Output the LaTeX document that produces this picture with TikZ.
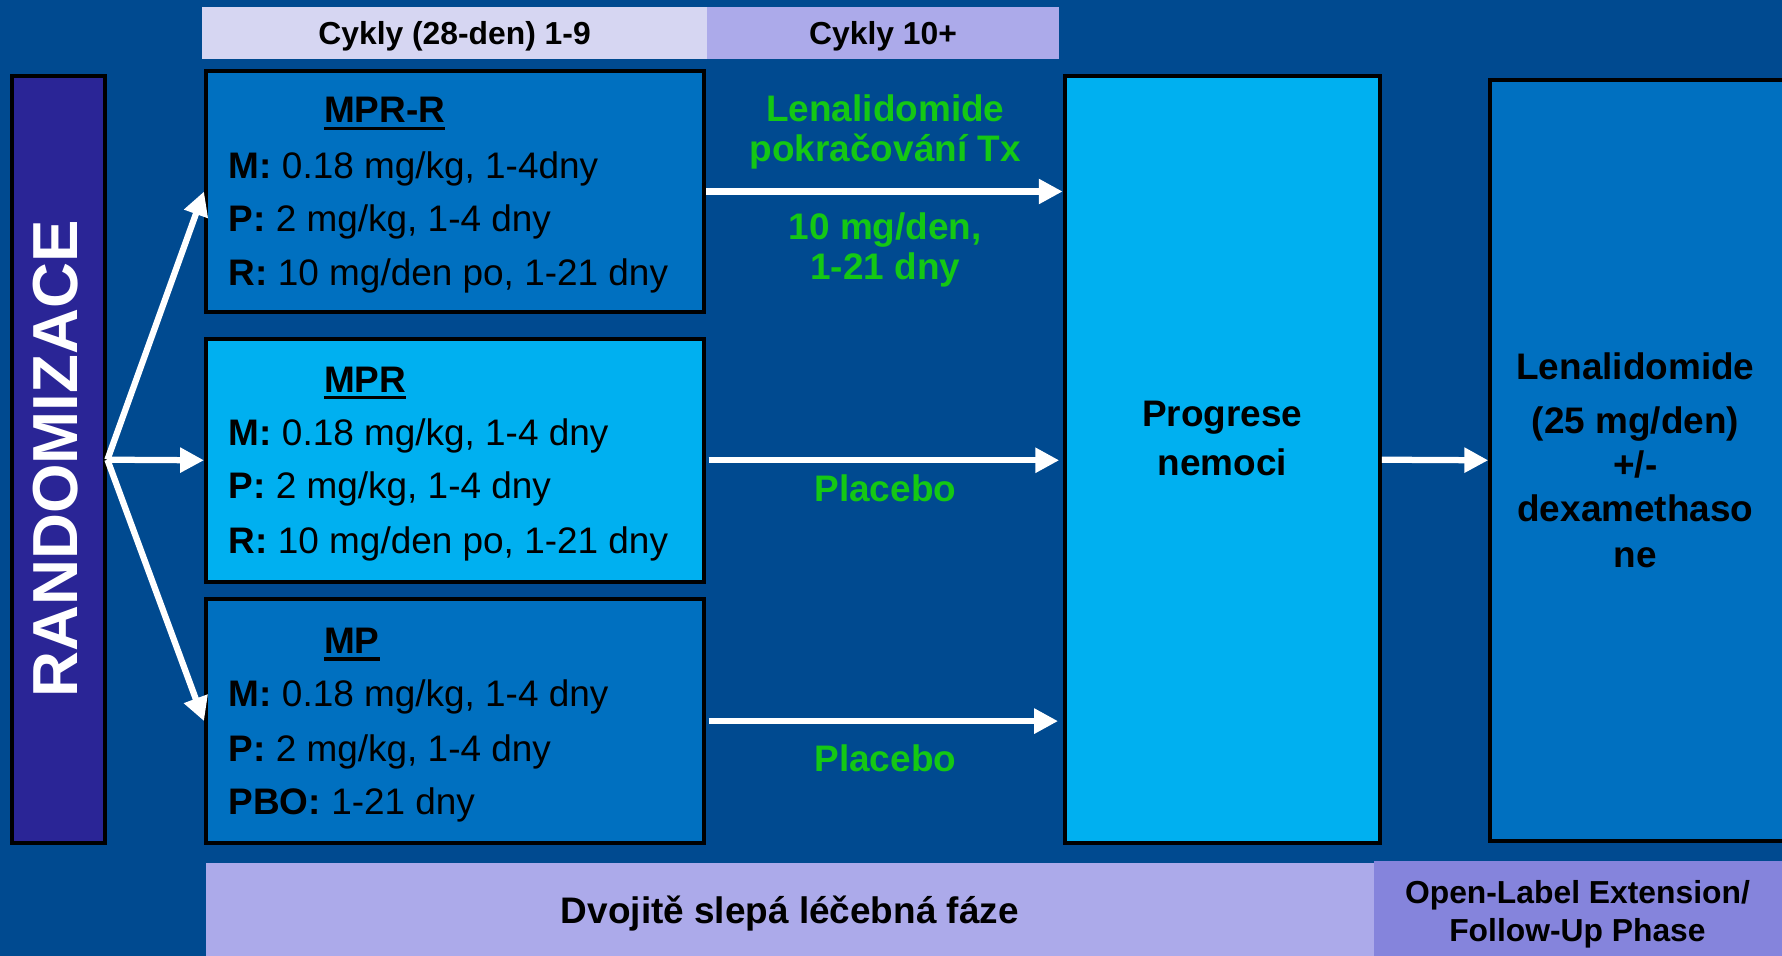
\documentclass[tikz,border=0pt]{standalone}
\usepackage{fontspec}
\setmainfont{Liberation Sans}
\usetikzlibrary{arrows.meta,calc}
\definecolor{bgblue}{RGB}{0,74,144}
\definecolor{randcol}{RGB}{42,37,150}
\definecolor{midblue}{RGB}{0,112,192}
\definecolor{lightblue}{RGB}{0,176,240}
\definecolor{hdrlight}{RGB}{214,214,242}
\definecolor{hdrmid}{RGB}{172,170,234}
\definecolor{hdrdark}{RGB}{133,132,220}
\definecolor{grn}{RGB}{20,200,20}
\begin{document}
\begin{tikzpicture}[x=1pt,y=-1pt,
  box/.style={draw=black, line width=3.5pt, inner sep=0pt, anchor=north west},
  bar/.style={inner sep=0pt, outer sep=0pt, anchor=north west},
  arr/.style={draw=white, line width=5.5pt, -{Triangle[length=21pt,width=21pt]}},
  ln/.style={anchor=base west, inner sep=0pt, font=\fontsize{32.5}{39}\selectfont},
  ttl/.style={anchor=base west, inner sep=0pt, font=\fontsize{32.5}{39}\selectfont\bfseries},
  ctxt/.style={anchor=base, inner sep=0pt, font=\fontsize{32.5}{39}\selectfont\bfseries},
  grtxt/.style={ctxt, text=grn},
  hdtxt/.style={anchor=base, inner sep=0pt, font=\fontsize{28}{33}\selectfont\bfseries},
  uline/.style={draw=black, line width=3pt}
]
\useasboundingbox (0,0) rectangle (1568,841);
\clip (0,0) rectangle (1568,841);
\fill[bgblue] (0,0) rectangle (1568,841);

% header bars
\node[bar, fill=hdrlight, minimum width=444pt, minimum height=46pt] (hdr1) at (178,6) {};
\node[bar, fill=hdrmid, minimum width=310pt, minimum height=46pt] (hdr2) at (622,6) {};
\node[hdtxt] (hdr1t) at (400,39.5) {Cykly (28-den) 1-9};
\node[hdtxt] (hdr2t) at (777,39.5) {Cykly 10+};

% bottom bars
\node[bar, fill=hdrmid, minimum width=1028pt, minimum height=82pt] (bar1) at (181,759) {};
\node[bar, fill=hdrdark, minimum width=359pt, minimum height=83.5pt] (bar2) at (1209,757.5) {};
\node[ctxt] (bar1t) at (695,812.5) {Dvojitě slepá léčebná fáze};
\node[hdtxt] (bar2ta) at (1388,795) {Open-Label Extension/};
\node[hdtxt] (bar2tb) at (1388,828) {Follow-Up Phase};

% boxes (anchor at outer corner)
\node[box, fill=randcol, minimum width=82.5pt, minimum height=674.5pt] (rand) at (8.5,65.5) {};
\node[anchor=base, rotate=90, inner sep=0pt, text=white, font=\fontsize{56}{60}\selectfont\bfseries] (randt) at (68,404) {RANDOMIZACE};

\node[box, fill=midblue, minimum width=438.5pt, minimum height=212.5pt] (mprr) at (179.5,60.5) {};
\node[box, fill=lightblue, minimum width=438.5pt, minimum height=213.5pt] (mpr) at (179.5,296.5) {};
\node[box, fill=midblue, minimum width=438.5pt, minimum height=214.5pt] (mp) at (179.5,525.5) {};
\node[box, fill=lightblue, minimum width=277.5pt, minimum height=674.5pt] (prog) at (935,65.5) {};
\node[box, fill=midblue, minimum width=300pt, minimum height=669.5pt] (right) at (1309.5,68.5) {};

% MPR-R
\node[ttl] (t1) at (285,108) {MPR-R};
\draw[uline] ($(t1.base west)+(0,5)$) -- ($(t1.base east)+(0,5)$);
\node[ln] (a1) at (201,157) {\textbf{M:} 0.18 mg/kg, 1-4dny};
\node[ln] (a2) at (201,204) {\textbf{P:} 2 mg/kg, 1-4 dny};
\node[ln] (a3) at (201,251) {\textbf{R:} 10 mg/den po, 1-21 dny};

% MPR
\node[ttl] (t2) at (285,345) {MPR};
\draw[uline] ($(t2.base west)+(0,5)$) -- ($(t2.base east)+(0,5)$);
\node[ln] (b1) at (201,392) {\textbf{M:} 0.18 mg/kg, 1-4 dny};
\node[ln] (b2) at (201,439) {\textbf{P:} 2 mg/kg, 1-4 dny};
\node[ln] (b3) at (201,487) {\textbf{R:} 10 mg/den po, 1-21 dny};

% MP
\node[ttl] (t3) at (285,575) {MP};
\draw[uline] ($(t3.base west)+(0,5)$) -- ($(t3.base east)+(0,5)$);
\node[ln] (c1) at (201,622) {\textbf{M:} 0.18 mg/kg, 1-4 dny};
\node[ln] (c2) at (201,670) {\textbf{P:} 2 mg/kg, 1-4 dny};
\node[ln] (c3) at (201,717) {\textbf{PBO:} 1-21 dny};

% green labels
\node[grtxt] (g1) at (779,107) {Lenalidomide};
\node[grtxt] (g2) at (779,142) {pokračování Tx};
\node[grtxt] (g3) at (779,211) {10 mg/den,};
\node[grtxt] (g4) at (779,246) {1-21 dny};
\node[grtxt] (g5) at (779,441.5) {Placebo};
\node[grtxt] (g6) at (779,678.5) {Placebo};

% progrese
\node[ctxt] (p1) at (1075.5,375) {Progrese};
\node[ctxt] (p2) at (1075.5,418) {nemoci};

% right box text
\node[ctxt] (r1) at (1439,334) {Lenalidomide};
\node[ctxt] (r2) at (1439,381) {(25 mg/den)};
\node[ctxt] (r3) at (1439,420) {+/-};
\node[ctxt] (r4) at (1439,459) {dexamethaso};
\node[ctxt] (r5) at (1439,499) {ne};

% arrows
\draw[arr] (rand.east) -- (mprr.west);
\draw[arr] (rand.east) -- (mpr.west);
\draw[arr] (rand.east) -- (mp.west);
\draw[arr] (mprr.east) -- (mprr.east -| prog.west);
\draw[arr, shorten <=2pt, shorten >=3pt] (mpr.east) -- (mpr.east -| prog.west);
\draw[arr, shorten <=2pt, shorten >=4pt] (mp.east) -- (mp.east -| prog.west);
\draw[arr] (prog.east) -- (right.west);
\end{tikzpicture}
\end{document}
